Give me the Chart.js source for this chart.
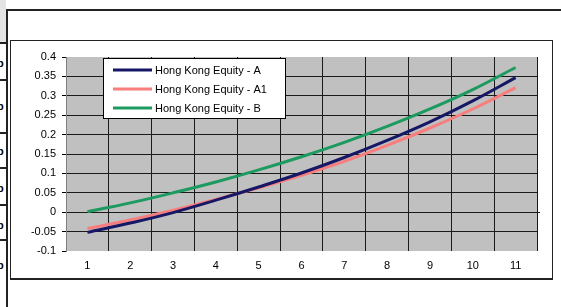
<!DOCTYPE html>
<html>
<head>
<meta charset="utf-8">
<script src="https://cdn.jsdelivr.net/npm/chart.js@4/dist/chart.umd.min.js"></script>
<style>
    body { margin: 0; background: #fff; }
    #page { position: relative; width: 561px; height: 307px; overflow: hidden; background: #fff; }
    .strip { position: absolute; left: 0; width: 6px; }
    .cellLine { position: absolute; left: 0; width: 7px; height: 2px; background: #222; }
    .cellP { position: absolute; left: -3px; font: bold 11px "Liberation Sans", Arial, sans-serif; color: #000; }
    #topLine { position: absolute; left: 6px; top: 9px; width: 555px; height: 2px; background: #222; }
    #leftLine { position: absolute; left: 6px; top: 9px; width: 2px; height: 298px; background: #222; }
    #chartFrame { position: absolute; left: 10px; top: 40px; width: 541px; height: 237px; border: 1px solid #222; border-bottom-width: 2px; }
    #chartCanvas { position: absolute; left: 0; top: 0; }
</style>
</head>
<body>
<div id="page">
    <div class="strip" style="top:0;height:43px;background:#e4e4e4"></div>
    <div class="cellLine" style="top:42px"></div>
    <div class="cellLine" style="top:79px"></div>
    <div class="cellLine" style="top:132px"></div>
    <div class="cellLine" style="top:167px"></div>
    <div class="cellLine" style="top:204px"></div>
    <div class="cellLine" style="top:239px"></div>
    <div class="cellP" style="top:57px">p</div>
    <div class="cellP" style="top:100px">p</div>
    <div class="cellP" style="top:145px">p</div>
    <div class="cellP" style="top:182px">p</div>
    <div class="cellP" style="top:219px">p</div>
    <div class="cellP" style="top:259px">p</div>
    <div id="topLine"></div>
    <div id="leftLine"></div>
    <div id="chartFrame"></div>
    <canvas id="chartCanvas" width="561" height="307"></canvas>
</div>
<script>
// Data
const categories = ['1', '2', '3', '4', '5', '6', '7', '8', '9', '10', '11'];
const equityA  = [-0.052, -0.028, -0.001, 0.031, 0.065, 0.101, 0.141, 0.185, 0.233, 0.287, 0.347];
const equityA1 = [-0.042, -0.020, 0.005, 0.033, 0.063, 0.095, 0.131, 0.172, 0.217, 0.266, 0.321];
const equityB  = [0.001, 0.024, 0.050, 0.078, 0.109, 0.143, 0.180, 0.221, 0.266, 0.316, 0.373];
const seriesNames = ['Hong Kong Equity - A', 'Hong Kong Equity - A1', 'Hong Kong Equity - B'];
const yMin = -0.1, yMax = 0.4, yStep = 0.05;

const FONT = '"Liberation Sans", Arial, sans-serif';

// Gray plot background like Excel, plus the little tick where the x axis crosses at 0
const plotBackground = {
    id: 'plotBackground',
    beforeDraw(chart) {
        const { ctx, chartArea: a } = chart;
        ctx.save();
        ctx.fillStyle = '#c0c0c0';
        ctx.fillRect(a.left, a.top, a.right - a.left, a.bottom - a.top);
        const y0 = Math.round(chart.scales.y.getPixelForValue(0)) + 0.5;
        ctx.strokeStyle = '#1a1a1a';
        ctx.lineWidth = 1;
        ctx.beginPath();
        ctx.moveTo(a.right, y0);
        ctx.lineTo(a.right + 3, y0);
        ctx.stroke();
        ctx.restore();
    }
};

// Legend box placed inside the plot area
const boxLegend = {
    id: 'boxLegend',
    afterDraw(chart) {
        const ctx = chart.ctx;
        const x = 103.5, y = 58.5, w = 182, h = 60;
        ctx.save();
        ctx.fillStyle = '#fff';
        ctx.strokeStyle = '#000';
        ctx.lineWidth = 1;
        ctx.fillRect(x, y, w, h);
        ctx.strokeRect(x, y, w, h);
        ctx.font = '11px ' + FONT;
        ctx.textBaseline = 'middle';
        chart.data.datasets.forEach((ds, i) => {
            const rowY = 70 + i * 19;
            ctx.strokeStyle = ds.borderColor;
            ctx.lineWidth = 3;
            ctx.beginPath();
            ctx.moveTo(113, rowY);
            ctx.lineTo(152, rowY);
            ctx.stroke();
            ctx.fillStyle = '#000';
            ctx.fillText(ds.label, 155, rowY + 0.5);
        });
        ctx.restore();
    }
};

const colors = ['#161866', '#f87e7e', '#1c9a5f'];
const values = [equityA, equityA1, equityB];

new Chart(document.getElementById('chartCanvas'), {
    type: 'line',
    data: {
        labels: categories,
        datasets: values.map((v, i) => ({
            label: seriesNames[i],
            data: v,
            borderColor: colors[i],
            borderWidth: 3,
            pointRadius: 0,
            tension: 0.4,
            fill: false
        }))
    },
    options: {
        responsive: false,
        animation: false,
        layout: { padding: { top: 57, right: 24, left: 0, bottom: 0 } },
        plugins: {
            legend: { display: false },
            tooltip: { enabled: false }
        },
        scales: {
            x: {
                offset: true,
                grid: {
                    offset: true,
                    drawTicks: false,
                    color: (c) => c.index === 0 ? '#808080' : '#1a1a1a',
                    lineWidth: 1
                },
                border: { display: false },
                ticks: { color: '#000', font: { family: FONT, size: 11 }, padding: 8, maxRotation: 0 },
                afterFit: (s) => { s.height = 56; }
            },
            y: {
                min: yMin,
                max: yMax,
                grid: {
                    color: (c) => {
                        const v = c.tick ? Math.round(c.tick.value * 100) / 100 : 0;
                        return (v === yMin || v === yMax) ? 'rgba(0,0,0,0)' : '#1a1a1a';
                    },
                    tickColor: '#000',
                    tickLength: 4
                },
                border: { color: '#808080', width: 1 },
                ticks: {
                    stepSize: yStep,
                    color: '#000',
                    font: { family: FONT, size: 11 },
                    padding: 6,
                    callback: (v) => String(parseFloat(Number(v).toFixed(2)))
                },
                afterFit: (s) => { s.width = 66; }
            }
        }
    },
    plugins: [plotBackground, boxLegend]
});
</script>
</body>
</html>
